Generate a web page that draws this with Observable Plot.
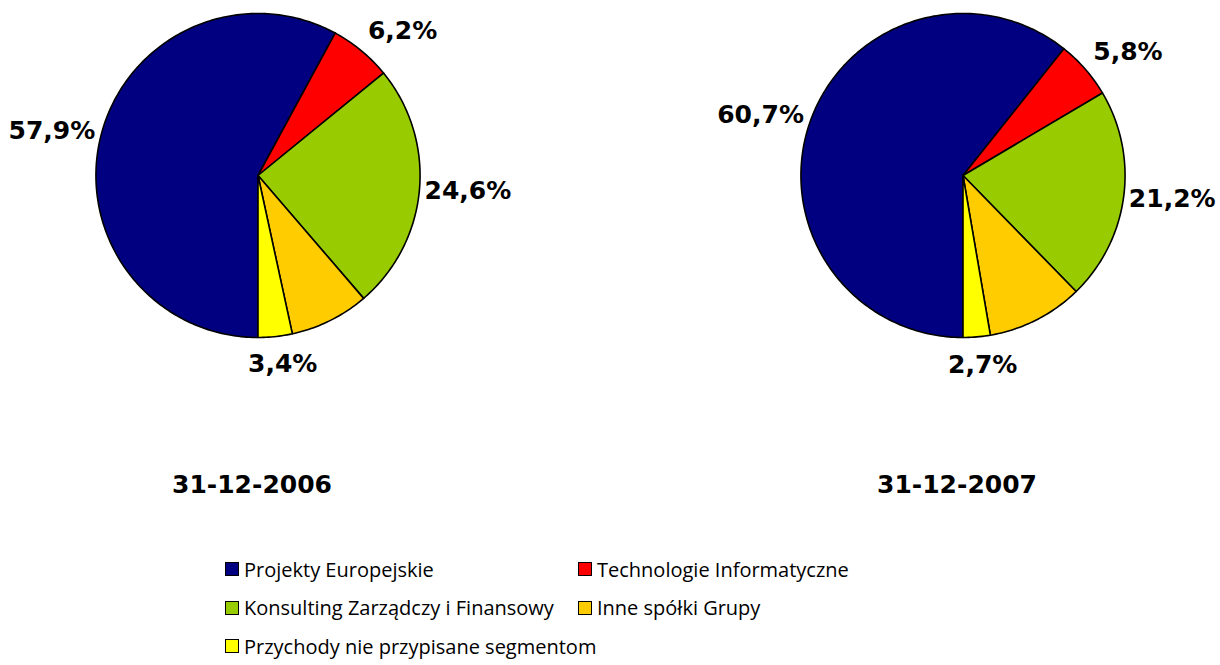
<!DOCTYPE html>
<html>
<head>
<meta charset="utf-8">
<script src="https://cdn.jsdelivr.net/npm/d3@7"></script>
<script src="https://cdn.jsdelivr.net/npm/@observablehq/plot@0.6"></script>
<style>
  html, body { margin: 0; padding: 0; background: #ffffff; }
  body { width: 1220px; height: 665px; overflow: hidden; font-family: "DejaVu Sans", Verdana, sans-serif; }
  #legend {
    display: grid;
    grid-template-columns: 353px 420px;
    grid-auto-rows: 38.5px;
    padding-left: 225px;
    margin-top: 30px;
  }
  .item { display: flex; align-items: center; font-family: "Open Sans", sans-serif; font-size: 20px; color: #000; white-space: nowrap; }
  .sw { width: 12px; height: 12px; border: 1.5px solid #000; margin-right: 5px; flex: none; }
</style>
</head>
<body>
<div id="chart"></div>
<div id="legend"></div>
<script>
// ---- data ----
const categories = [
  "Projekty Europejskie",
  "Technologie Informatyczne",
  "Konsulting Zarządczy i Finansowy",
  "Inne spółki Grupy",
  "Przychody nie przypisane segmentom"
];
const colors = ["#000080", "#FF0000", "#99CC00", "#FFCC00", "#FFFF00"];
const years = ["31-12-2006", "31-12-2007"];
const values2006 = [57.9, 6.2, 24.6, 7.9, 3.4];
const values2007 = [60.7, 5.8, 21.2, 9.6, 2.7];
const labelled = [true, true, true, false, true];

// ---- layout ----
const W = 1220, H = 520, MB = 50;
const R = 162;                 // pie radius in px
const padInner = 0.27;
const step = W / (2 - padInner);
const bw = step * (1 - padInner);
const xHalf = bw / 2 / R;
const cyPx = 175;
const yTop = cyPx / R, yBot = -((H - MB) - cyPx) / R;
const labelFont = 25;

const canvas = document.createElement("canvas");
const ctx = canvas.getContext("2d");
ctx.font = `bold ${labelFont}px "DejaVu Sans"`;
const fmt = v => v.toFixed(1).replace(".", ",") + "%";

const slicePts = [];
const labels = [];
const seriesByYear = [values2006, values2007];
years.forEach((year, yi) => {
  const vals = seriesByYear[yi];
  const arcs = d3.pie().sort(null).startAngle(Math.PI).endAngle(3 * Math.PI)(vals);
  arcs.forEach((a, i) => {
    const key = categories[i];
    slicePts.push({year, key, x: 0, y: 0});
    const n = Math.max(2, Math.ceil((a.endAngle - a.startAngle) / (Math.PI / 180)));
    for (let k = 0; k <= n; k++) {
      const t = a.startAngle + (a.endAngle - a.startAngle) * k / n;
      slicePts.push({year, key, x: Math.sin(t), y: Math.cos(t)});
    }
    if (labelled[i]) {
      const mid = (a.startAngle + a.endAngle) / 2;
      const dx = Math.sin(mid), dy = Math.cos(mid);
      const text = fmt(vals[i]);
      const w = ctx.measureText(text).width;
      const h = 20;
      const pad = 5 + 13 * dy * dy;
      const cl = v => Math.max(-1, Math.min(1, v));
      const lx = dx * (1 + pad / R) + cl(1.5 * dx) * (w / 2) / R;
      const ly = dy * (1 + pad / R) + cl(1.5 * dy) * (h / 2) / R;
      labels.push({year, text, x: lx, y: ly});
    }
  });
});

const chart = Plot.plot({
  width: W,
  height: H,
  marginLeft: 0, marginRight: 0, marginTop: 0, marginBottom: MB,
  style: {fontFamily: "DejaVu Sans", background: "#fff", overflow: "visible"},
  fx: {domain: years, paddingInner: padInner, paddingOuter: 0, label: null},
  x: {domain: [-xHalf, xHalf], axis: null},
  y: {domain: [yBot, yTop], axis: null},
  color: {domain: categories, range: colors},
  marks: [
    Plot.line(slicePts, {
      fx: "year", x: "x", y: "y", z: "key", fill: "key",
      stroke: "#000", strokeWidth: 1.6, strokeLinejoin: "round",
      curve: "linear-closed"
    }),
    Plot.text(labels, {
      fx: "year", x: "x", y: "y", text: "text",
      fontSize: labelFont, fontWeight: "bold", fill: "#000",
      textAnchor: "middle", lineAnchor: "middle"
    }),
    Plot.axisFx({anchor: "bottom", tickSize: 0, tickPadding: 5, dx: -6, fontSize: 25, fontWeight: "bold", label: null, fill: "#000"})
  ]
});
document.getElementById("chart").append(chart);

const legend = document.getElementById("legend");
categories.forEach((c, i) => {
  const item = document.createElement("div");
  item.className = "item";
  const sw = document.createElement("span");
  sw.className = "sw";
  sw.style.background = colors[i];
  const label = document.createElement("span");
  label.textContent = c;
  item.append(sw, label);
  legend.append(item);
});
</script>
</body>
</html>
